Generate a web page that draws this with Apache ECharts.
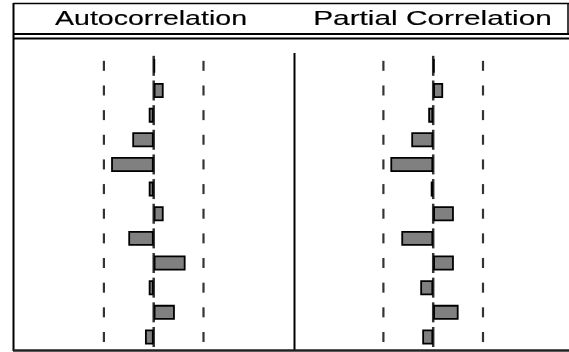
<!DOCTYPE html>
<html>
<head>
<meta charset="utf-8">
<script src="https://cdn.jsdelivr.net/npm/echarts@6/dist/echarts.min.js"></script>
<style>
html,body{margin:0;padding:0;background:#fff;}
#chart{width:569px;height:352px;}
</style>
</head>
<body>
<div id="chart"></div>
<script>
// ---- data ----
var lags = ['1','2','3','4','5','6','7','8','9','10','11','12'];
var acf  = [0.005, 0.040, -0.020, -0.086, -0.171, -0.020, 0.040, -0.102, 0.128, -0.020, 0.085, -0.035];
var pacf = [0.005, 0.040, -0.020, -0.088, -0.172, -0.010, 0.083, -0.128, 0.083, -0.052, 0.102, -0.044];
var confBound = 0.2;
var headers = ['Autocorrelation', 'Partial Correlation'];

var chart = echarts.init(document.getElementById('chart'), null, {renderer: 'canvas'});

var gridTop = 53.5, gridH = 295.8, unitW = 249;
var centers = [153.7, 433.2];

function boundPts() {
  var d = [];
  lags.forEach(function (c) { d.push([-confBound, c]); d.push([confBound, c]); });
  return d;
}
function zeroPts() {
  return lags.map(function (c) { return [0, c]; });
}

var grids = [], xAxes = [], yAxes = [], series = [];
[acf, pacf].forEach(function (vals, i) {
  grids.push({left: centers[i] - unitW / 2, width: unitW, top: gridTop, height: gridH});
  xAxes.push({type: 'value', gridIndex: i, min: -0.5, max: 0.5,
    axisLine: {show: false}, axisTick: {show: false}, axisLabel: {show: false}, splitLine: {show: false}});
  yAxes.push({type: 'category', gridIndex: i, data: lags, inverse: true,
    axisLine: {show: false}, axisTick: {show: false}, axisLabel: {show: false}, splitLine: {show: false}});
  series.push({type: 'scatter', xAxisIndex: i, yAxisIndex: i, data: zeroPts(),
    symbol: 'rect', symbolSize: [2.5, 20], itemStyle: {color: '#000'}, silent: true, z: 1});
  series.push({type: 'scatter', xAxisIndex: i, yAxisIndex: i, data: boundPts(),
    symbol: 'rect', symbolSize: [2.2, 10], itemStyle: {color: '#000'}, silent: true, z: 1});
  series.push({type: 'bar', xAxisIndex: i, yAxisIndex: i, data: vals, barWidth: 15,
    itemStyle: {color: '#808080', borderColor: '#000', borderWidth: 1.8}, silent: true, z: 3});
});

var lineStyle = {stroke: '#000', lineWidth: 1.5};
var graphics = [
  {type: 'line', shape: {x1: 13.5, y1: 3.5, x2: 569, y2: 3.5}, style: lineStyle},
  {type: 'line', shape: {x1: 13.5, y1: 3, x2: 13.5, y2: 351}, style: {stroke: '#000', lineWidth: 2}},
  {type: 'line', shape: {x1: 568, y1: 3, x2: 568, y2: 34}, style: lineStyle},
  {type: 'line', shape: {x1: 13, y1: 34, x2: 569, y2: 34}, style: {stroke: '#000', lineWidth: 1.8}},
  {type: 'line', shape: {x1: 13, y1: 38.5, x2: 569, y2: 38.5}, style: {stroke: '#000', lineWidth: 1.8}},
  {type: 'line', shape: {x1: 294.5, y1: 53, x2: 294.5, y2: 350}, style: {stroke: '#000', lineWidth: 2}},
  {type: 'line', shape: {x1: 13, y1: 350.5, x2: 569, y2: 350.5}, style: {stroke: '#222', lineWidth: 2.5}}
];
var headerX = [151, 432.5];
var headerScale = [1.36, 1.42];
headers.forEach(function (t, i) {
  graphics.push({type: 'text', x: headerX[i], y: 19.5, scaleX: headerScale[i],
    style: {text: t, x: 0, y: 0, fill: '#000', stroke: '#000', lineWidth: 0.15,
      font: '21px "Liberation Sans", Arial, sans-serif',
      textAlign: 'center', textVerticalAlign: 'middle'}});
});

chart.setOption({
  animation: false,
  grid: grids,
  xAxis: xAxes,
  yAxis: yAxes,
  series: series,
  graphic: graphics
});
</script>
</body>
</html>
